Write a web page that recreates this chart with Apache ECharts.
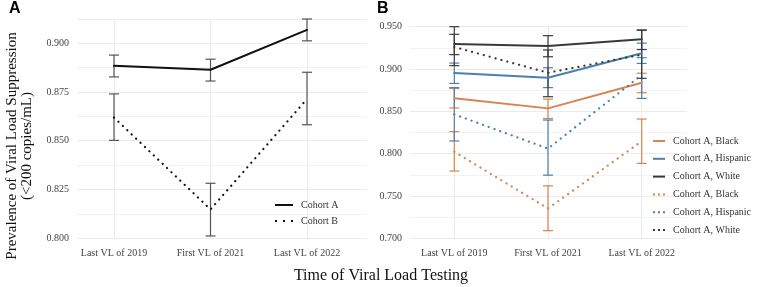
<!DOCTYPE html>
<html>
<head>
<meta charset="utf-8">
<script src="https://cdn.jsdelivr.net/npm/echarts@6/dist/echarts.min.js"></script>
<style>
  html, body { margin: 0; padding: 0; background: #fff; }
  #chart { width: 762px; height: 287px; }
</style>
</head>
<body>
<div id="chart"></div>
<script>
// time points
var categories = ['Last VL of 2019', 'First VL of 2021', 'Last VL of 2022'];

// panel A: whole cohorts
var cohortA = [0.8884, 0.8864, 0.9068];
var cohortALow = [0.8827, 0.8806, 0.9012];
var cohortAHigh = [0.8939, 0.8918, 0.9124];
var cohortB = [0.8619, 0.8148, 0.8714];
var cohortBLow = [0.8502, 0.8012, 0.8582];
var cohortBHigh = [0.8740, 0.8282, 0.8851];

// panel B: by race / ethnicity
var aBlack = [0.8654, 0.8535, 0.8838];
var aBlackLow = [0.8540, 0.8415, 0.8720];
var aBlackHigh = [0.8770, 0.8645, 0.8950];
var aHispanic = [0.8953, 0.8897, 0.9186];
var aHispanicLow = [0.8830, 0.8780, 0.9066];
var aHispanicHigh = [0.9070, 0.9015, 0.9306];
var aWhite = [0.9296, 0.9272, 0.9351];
var aWhiteLow = [0.9170, 0.9145, 0.9230];
var aWhiteHigh = [0.9410, 0.9394, 0.9460];
var bBlack = [0.8023, 0.7353, 0.8147];
var bBlackLow = [0.7795, 0.7090, 0.7885];
var bBlackHigh = [0.8260, 0.7620, 0.8409];
var bHispanic = [0.8464, 0.8060, 0.8930];
var bHispanicLow = [0.8150, 0.7746, 0.8653];
var bHispanicHigh = [0.8780, 0.8397, 0.9134];
var bWhite = [0.9260, 0.8956, 0.9170];
var bWhiteLow = [0.9040, 0.8673, 0.8890];
var bWhiteHigh = [0.9500, 0.9225, 0.9460];

var serif = '"Liberation Serif", "DejaVu Serif", serif';
var ORANGE = '#D9834E', BLUE = '#4B7FAE', DARK = '#3A3A3A';
var gridColor = '#EBEBEB';

var chart = echarts.init(document.getElementById('chart'));

// error bars drawn through the axis scale
function errorBars(low, high, color, axisIdx) {
  return {
    type: 'custom',
    xAxisIndex: axisIdx, yAxisIndex: axisIdx,
    silent: true, z: 1,
    data: categories.map(function (c, i) { return [i, low[i], high[i]]; }),
    renderItem: function (params, api) {
      var top = api.coord([api.value(0), api.value(2)]);
      var bot = api.coord([api.value(0), api.value(1)]);
      var w = 5;
      var st = { stroke: color, lineWidth: 1.2 };
      return {
        type: 'group',
        children: [
          { type: 'line', shape: { x1: top[0], y1: top[1], x2: bot[0], y2: bot[1] }, style: st },
          { type: 'line', shape: { x1: top[0] - w, y1: top[1], x2: top[0] + w, y2: top[1] }, style: st },
          { type: 'line', shape: { x1: bot[0] - w, y1: bot[1], x2: bot[0] + w, y2: bot[1] }, style: st }
        ]
      };
    }
  };
}

function lineSeries(name, data, color, dotted, axisIdx) {
  return {
    name: name, type: 'line', data: data,
    xAxisIndex: axisIdx, yAxisIndex: axisIdx,
    symbol: 'none', z: 3,
    itemStyle: { color: color },
    lineStyle: { color: color, width: dotted ? 2.2 : 2, type: dotted ? [0.1, 6] : 'solid', cap: 'round' }
  };
}

var hiddenValue = { show: false };

// outer grids carry the y axis & horizontal grid, inner grids carry the points
var grids = [
  { left: 77, right: 395, top: 18.8, height: 219.5 },   // A outer
  { left: 114, right: 455, top: 18.8, height: 219.5 },  // A inner
  { left: 410, right: 75, top: 26.7, height: 211.6 },   // B outer
  { left: 454.3, right: 120.3, top: 26.7, height: 211.6 } // B inner
];

function yOuter(min, max, interval, showMax) {
  return {
    type: 'value', min: min, max: max, interval: interval,
    axisLine: { show: false }, axisTick: { show: false },
    axisLabel: {
      color: '#444', fontFamily: serif, fontSize: 10, margin: 8, showMaxLabel: showMax,
      formatter: function (v) { return v.toFixed(3); }
    },
    splitLine: { lineStyle: { color: gridColor, width: 1 } },
    minorTick: { show: false, splitNumber: 2 },
    minorSplitLine: { show: true, lineStyle: { color: '#F3F3F3', width: 1 } }
  };
}
function yInner(min, max) {
  return { type: 'value', min: min, max: max, show: false, splitLine: hiddenValue };
}
var xOuter = { type: 'value', min: 0, max: 1, show: false, splitLine: hiddenValue };
var xInner = {
  type: 'category', data: categories, boundaryGap: false,
  axisLine: { show: false }, axisTick: { show: false },
  axisLabel: { color: '#444', fontFamily: serif, fontSize: 10, margin: 10 },
  splitLine: { show: true, lineStyle: { color: gridColor, width: 1 } }
};

var legendText = { fontFamily: serif, fontSize: 10, color: '#333', lineHeight: 10, padding: [0, 0, 0, 3] };
// legend keys: a short bar for solid lines, three dots for dotted ones
var solidKey = 'rect';
var dotsKeyA = 'path://M0,0h2v2h-2z M8,0h2v2h-2z M16,0h2v2h-2z';
var dotsKeyB = 'path://M0,0h2v2h-2z M5,0h2v2h-2z M10,0h2v2h-2z';

var option = {
  animation: false,
  backgroundColor: '#fff',
  grid: grids,
  xAxis: [
    Object.assign({ gridIndex: 0 }, xOuter),
    Object.assign({ gridIndex: 1 }, xInner),
    Object.assign({ gridIndex: 2 }, xOuter),
    Object.assign({ gridIndex: 3 }, xInner)
  ],
  yAxis: [
    Object.assign({ gridIndex: 0 }, yOuter(0.8, 0.9125, 0.025, false)),
    Object.assign({ gridIndex: 1 }, yInner(0.8, 0.9125)),
    Object.assign({ gridIndex: 2 }, yOuter(0.7, 0.95, 0.05, true)),
    Object.assign({ gridIndex: 3 }, yInner(0.7, 0.95))
  ],
  title: {
    text: 'Time of Viral Load Testing',
    left: 'center', top: 263,
    textStyle: { fontFamily: serif, fontSize: 16, fontWeight: 'normal', color: '#111' }
  },
  legend: [
    {
      data: [
        { name: 'Cohort A', icon: solidKey },
        { name: 'Cohort B', icon: dotsKeyA }
      ],
      orient: 'vertical', left: 270, top: 195,
      itemWidth: 18, itemHeight: 2, itemGap: 6,
      textStyle: legendText
    },
    {
      data: [
        { name: 'Cohort A, Black', icon: solidKey },
        { name: 'Cohort A, Hispanic', icon: solidKey },
        { name: 'Cohort A, White', icon: solidKey },
        { name: 'Cohort B, Black', icon: dotsKeyB },
        { name: 'Cohort B, Hispanic', icon: dotsKeyB },
        { name: 'Cohort B, White', icon: dotsKeyB }
      ],
      orient: 'vertical', left: 648, top: 131,
      itemWidth: 12, itemHeight: 2, itemGap: 7.8,
      // the figure's legend prints "Cohort A" on the dotted rows too
      formatter: function (name) { return name.replace('Cohort B', 'Cohort A'); },
      textStyle: legendText
    }
  ],
  graphic: [
    { type: 'text', left: 9, top: 1, style: { text: 'A', font: 'bold 16px "Liberation Sans", Arial, sans-serif', fill: '#000' } },
    { type: 'text', left: 377, top: 1, style: { text: 'B', font: 'bold 16px "Liberation Sans", Arial, sans-serif', fill: '#000' } },
    {
      type: 'text', x: 20, y: 146, rotation: Math.PI / 2,
      style: {
        text: 'Prevalence of Viral Load Suppression\n(<200 copies/mL)',
        font: '15px "Liberation Serif", serif', fill: '#111',
        align: 'center', verticalAlign: 'middle', lineHeight: 15
      }
    }
  ],
  series: [
    errorBars(cohortALow, cohortAHigh, '#555', 1),
    errorBars(cohortBLow, cohortBHigh, '#555', 1),
    lineSeries('Cohort A', cohortA, '#111', false, 1),
    lineSeries('Cohort B', cohortB, '#111', true, 1),

    errorBars(aBlackLow, aBlackHigh, ORANGE, 3),
    errorBars(aHispanicLow, aHispanicHigh, BLUE, 3),
    errorBars(aWhiteLow, aWhiteHigh, DARK, 3),
    errorBars(bBlackLow, bBlackHigh, ORANGE, 3),
    errorBars(bHispanicLow, bHispanicHigh, BLUE, 3),
    errorBars(bWhiteLow, bWhiteHigh, DARK, 3),
    lineSeries('Cohort A, Black', aBlack, ORANGE, false, 3),
    lineSeries('Cohort A, Hispanic', aHispanic, BLUE, false, 3),
    lineSeries('Cohort A, White', aWhite, DARK, false, 3),
    lineSeries('Cohort B, Black', bBlack, ORANGE, true, 3),
    lineSeries('Cohort B, Hispanic', bHispanic, BLUE, true, 3),
    lineSeries('Cohort B, White', bWhite, DARK, true, 3)
  ]
};

chart.setOption(option);
</script>
</body>
</html>
